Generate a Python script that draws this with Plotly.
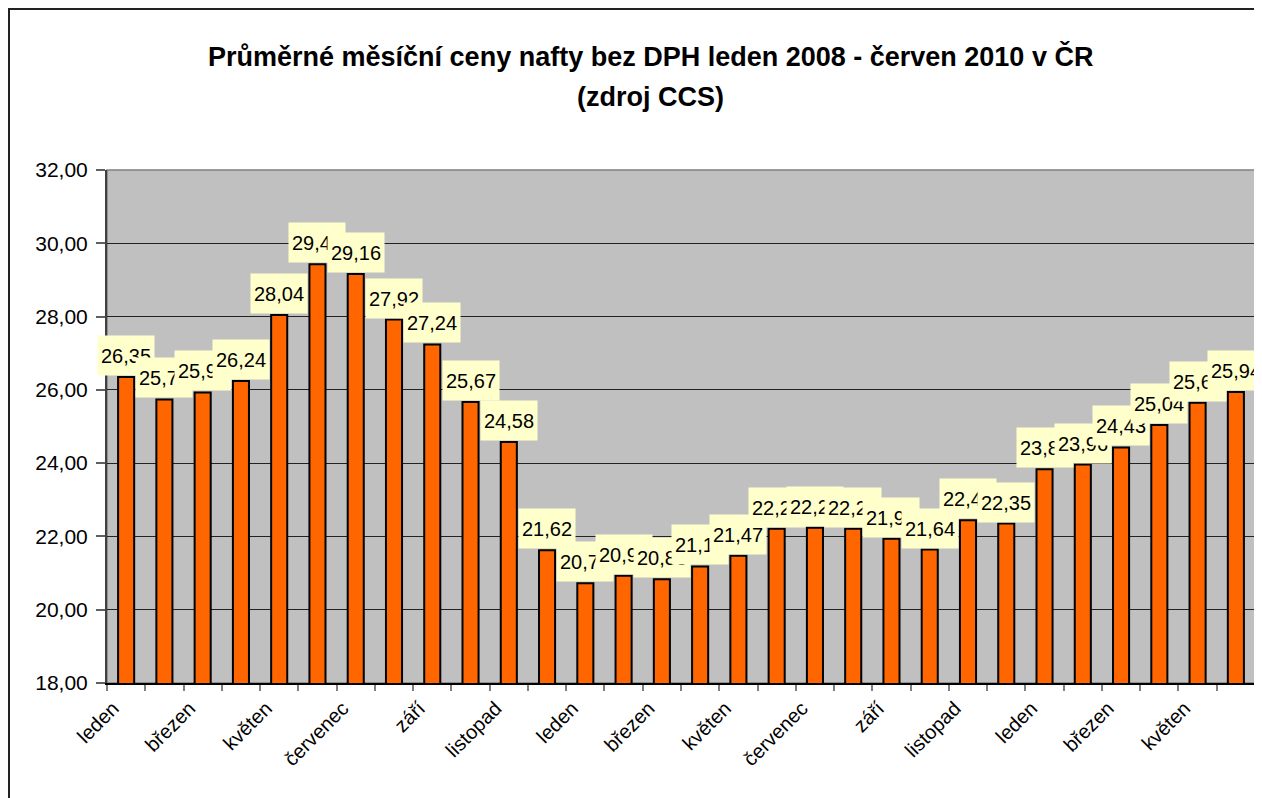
import plotly.graph_objects as go

months = ["leden", "únor", "březen", "duben", "květen", "červen",
          "červenec", "srpen", "září", "říjen", "listopad", "prosinec",
          "leden", "únor", "březen", "duben", "květen", "červen",
          "červenec", "srpen", "září", "říjen", "listopad", "prosinec",
          "leden", "únor", "březen", "duben", "květen", "červen"]
prices = [26.35, 25.74, 25.93, 26.24, 28.04, 29.43, 29.16, 27.92, 27.24, 25.67, 24.58, 21.62,
          20.72, 20.93, 20.83, 21.18, 21.47, 22.21, 22.24, 22.21, 21.94, 21.64, 22.44, 22.35,
          23.83, 23.96, 24.43, 25.04, 25.65, 25.94]
y_ticks = [18, 20, 22, 24, 26, 28, 30, 32]
title_line1 = "Průměrné měsíční ceny nafty bez DPH leden 2008 - červen 2010 v ČR"
title_line2 = "(zdroj CCS)"

FONT = "Arial, Liberation Sans, sans-serif"
x = list(range(len(months)))

fig = go.Figure()
fig.add_trace(go.Bar(
    x=x, y=prices,
    marker=dict(color="#FF6600", line=dict(color="black", width=2)),
    hoverinfo="y",
))

annotations = []
for xi, v in zip(x, prices):
    annotations.append(dict(
        x=xi, y=v, xref="x", yref="y", yanchor="bottom", xanchor="center",
        yshift=1, text=f"{v:.2f}".replace(".", ","), showarrow=False,
        bgcolor="#FFFFCC", width=54, height=37, borderpad=1,
        font=dict(family=FONT, size=20, color="black"),
    ))

ml, mr, mt, mb = 99, 15, 162, 123
W, H = 1262, 798
pw, ph = W - ml - mr, H - mt - mb

annotations.append(dict(x=(650 - 107) / pw, y=(683 - 57) / ph, xref="paper", yref="paper",
                        text="<b>" + title_line1 + "</b>", showarrow=False,
                        xanchor="center", yanchor="middle",
                        font=dict(family=FONT, size=27, color="black")))
annotations.append(dict(x=(650 - 107) / pw, y=(683 - 97) / ph, xref="paper", yref="paper",
                        text="<b>" + title_line2 + "</b>", showarrow=False,
                        xanchor="center", yanchor="middle",
                        font=dict(family=FONT, size=27, color="black")))

shapes = [
    # outer chart border (figure edge; right/bottom fall outside the window)
    dict(type="rect", xref="paper", yref="paper",
         x0=(1 - ml) / pw, x1=(W - 1 - ml) / pw,
         y0=-(mb - 1) / ph, y1=1 + (mt - 1) / ph,
         line=dict(color="#222222", width=2), fillcolor="rgba(0,0,0,0)", layer="above"),
    # plot area frame
    dict(type="rect", xref="paper", yref="paper", x0=0, x1=1, y0=0, y1=1,
         line=dict(color="#808080", width=1.5), fillcolor="rgba(0,0,0,0)", layer="below"),
]

fig.update_layout(
    width=W, height=H,
    margin=dict(l=ml, r=mr, t=mt, b=mb, pad=0),
    paper_bgcolor="white", plot_bgcolor="#C0C0C0",
    bargap=0.58, showlegend=False,
    separators=", ",
    font=dict(family=FONT, color="black"),
    annotations=annotations, shapes=shapes,
    xaxis=dict(
        range=[-0.5, len(months) - 0.5],
        tickmode="array", tickvals=x[::2], ticktext=months[::2],
        tickangle=-45, ticks="", showgrid=False, zeroline=False,
        tickfont=dict(family=FONT, size=20, color="black"),
        ticklabelshift=-13, ticklabelstandoff=4,
        showline=True, linecolor="black", linewidth=1.5,
        minor=dict(tickmode="array", tickvals=[i - 0.5 for i in range(len(months) + 1)],
                   ticks="outside", ticklen=6, tickcolor="#808080", tickwidth=1.5,
                   showgrid=False),
    ),
    yaxis=dict(
        range=[18, 32], tickmode="array", tickvals=y_ticks, tickformat=".2f",
        ticks="outside", ticklen=9, tickcolor="#606060", tickwidth=1.5,
        ticklabelstandoff=4,
        showgrid=True, gridcolor="#222222", gridwidth=1, zeroline=False,
        showline=True, linecolor="#404040", linewidth=2,
        tickfont=dict(family=FONT, size=21, color="black"),
    ),
)

fig.write_html("out.html")
